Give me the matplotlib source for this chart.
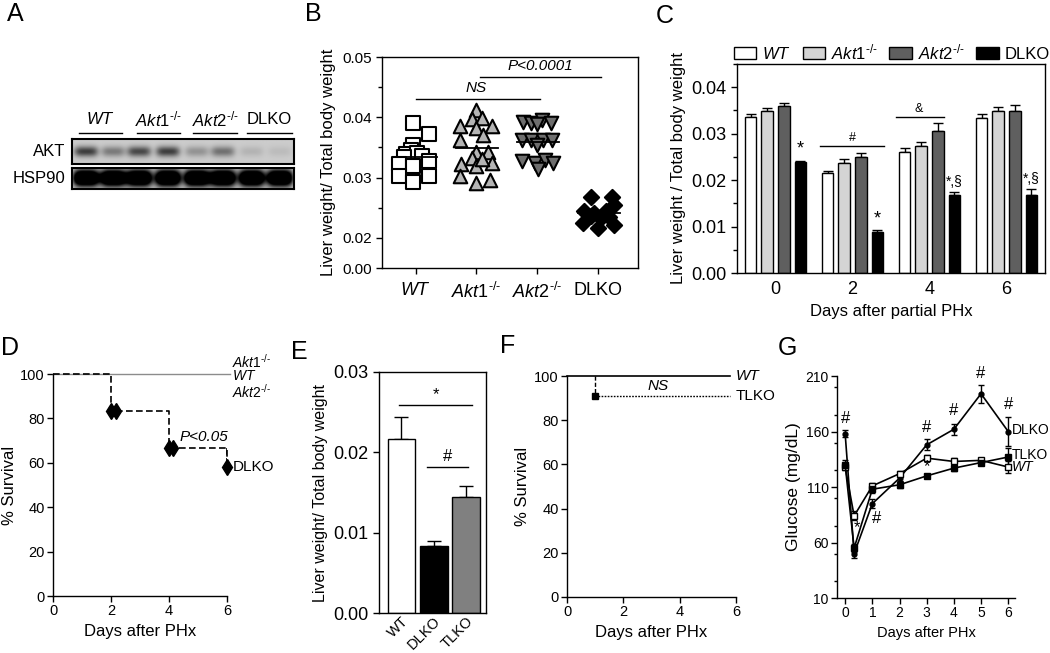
import numpy as np
import matplotlib
matplotlib.use("Agg")
import matplotlib.pyplot as plt
from matplotlib.patches import Patch
from matplotlib.ticker import MultipleLocator, FixedLocator

plt.rcParams['font.family'] = ['Liberation Sans', 'DejaVu Sans']
plt.rcParams['mathtext.fontset'] = 'custom'
plt.rcParams['mathtext.rm'] = 'Liberation Sans'
plt.rcParams['mathtext.it'] = 'Liberation Sans:italic'
plt.rcParams['axes.linewidth'] = 1.0
plt.rcParams['xtick.major.width'] = 1.0
plt.rcParams['ytick.major.width'] = 1.0
plt.rcParams['ytick.minor.width'] = 1.0

AKT1 = r'$\mathit{Akt1}^{\text{-/-}}$'
AKT2 = r'$\mathit{Akt2}^{\text{-/-}}$'
WT = r'$\mathit{WT}$'

# ---- A: western blot (band intensity per lane)
lane_pos = [0.063, 0.185, 0.302, 0.432, 0.563, 0.68, 0.81, 0.937]
akt_int = [0.7, 0.4, 0.65, 0.7, 0.28, 0.45, 0.12, 0.08]
hsp_int = [1.0, 1.0, 1.0, 1.0, 1.0, 1.0, 1.0, 1.0]
blot_groups = [WT, AKT1, AKT2, 'DLKO']

# ---- B: liver/body weight scatter
b_groups = [WT, AKT1, AKT2, 'DLKO']
b_wt_dx = [-0.04, 0.22, -0.04, -0.08, -0.16, 0.03, 0.11, -0.19, 0.22, -0.27, -0.04, 0.22, -0.27, -0.04]
b_wt_y = [0.0391, 0.0373, 0.0354, 0.0346, 0.0339, 0.0341, 0.0335, 0.0334, 0.0328, 0.0323, 0.0320, 0.0302, 0.0302, 0.0293]
b_akt1_dx = [0, -0.08, 0.09, -0.27, 0.25, 0, 0.11, -0.27, 0, 0.19, -0.08, -0.25, 0.25, 0, 0.09, -0.27, 0.22, 0]
b_akt1_y = [0.0412, 0.0397, 0.0398, 0.0385, 0.0386, 0.0382, 0.0371, 0.0362, 0.0343, 0.0343, 0.0332, 0.0323,
            0.0324, 0.0320, 0.0330, 0.0302, 0.0296, 0.0291]
b_akt2_dx = [-0.23, -0.10, 0.07, 0.23, 0, -0.26, -0.10, 0.09, 0.24, 0, -0.26, -0.04, 0.12, 0.26, 0.01]
b_akt2_y = [0.0393, 0.0391, 0.0396, 0.0391, 0.0389, 0.0362, 0.0362, 0.0362, 0.0362, 0.0354, 0.0327, 0.0324,
            0.0329, 0.0324, 0.0315]
b_dlko_dx = [-0.12, 0.23, 0.26, -0.24, -0.07, 0.13, -0.12, 0.04, 0.18, -0.26, 0.26, 0]
b_dlko_y = [0.0268, 0.0268, 0.0255, 0.0244, 0.0241, 0.0244, 0.0236, 0.0233, 0.0235, 0.0224, 0.0221, 0.0217]

# ---- C: liver/body weight after PHx
c_days = [0, 2, 4, 6]
c_wt = [0.0335, 0.0215, 0.0261, 0.0334]
c_wt_err = [0.0007, 0.0005, 0.0008, 0.0009]
c_akt1 = [0.0349, 0.0236, 0.0274, 0.0349]
c_akt1_err = [0.0006, 0.0009, 0.0007, 0.0009]
c_akt2 = [0.0360, 0.0249, 0.0305, 0.0348]
c_akt2_err = [0.0007, 0.0010, 0.0017, 0.0014]
c_dlko = [0.0238, 0.0088, 0.0169, 0.0169]
c_dlko_err = [0.0004, 0.0005, 0.0005, 0.0012]
c_dlko_marks = ['*', '*', '*,§', '*,§']

# ---- D: survival
d_days = [0, 2, 4, 6]
d_ctrl = [100, 100, 100, 100]
d_dlko = [100, 83.3, 66.7, 58.3]
d_evt_days = [2.0, 2.17, 4.0, 4.15, 6.0]
d_evt_surv = [83.3, 83.3, 66.7, 66.7, 58.3]

# ---- E: liver/body weight
e_groups = ['WT', 'DLKO', 'TLKO']
e_vals = [0.0216, 0.0084, 0.0145]
e_err = [0.0028, 0.0006, 0.0013]

# ---- F: survival
f_wt_days = [0, 5.77]
f_wt = [100, 100]
f_tlko_days = [1, 5.77]
f_tlko = [90.9, 90.9]

# ---- G: glucose
g_days = [0, 0.33, 1, 2, 3, 4, 5, 6]
g_dlko = [158, 50, 95, 118, 148, 162, 194, 160]
g_dlko_err = [3, 4, 4, 3, 5, 5, 8, 13]
g_wt = [128, 84, 111, 122, 136, 133, 134, 128]
g_wt_err = [3, 4, 3, 2, 3, 3, 2, 5]
g_tlko = [130, 55, 108, 112, 120, 127, 132, 137]
g_tlko_err = [4, 4, 3, 3, 2, 3, 2, 8]

fig = plt.figure(figsize=(10.5, 6.53), dpi=100)


def open_axes(ax, size=10):
    ax.spines['top'].set_visible(False)
    ax.spines['right'].set_visible(False)
    ax.tick_params(direction='out', length=4, labelsize=size, pad=2)


# ================= A =================
def blot(ax, intens, bg, sx, sy, gain):
    xx = np.linspace(0, 1, 400)
    yy = np.linspace(0, 1, 50)
    X, Y = np.meshgrid(xx, yy)
    img = np.full_like(X, bg)
    for xc, a in zip(lane_pos, intens):
        img += gain * a * np.exp(-0.5 * ((X - xc) / sx) ** 4 - 0.5 * ((Y - 0.5) / sy) ** 2)
    ax.imshow(np.clip(img, 0, 1), cmap='gray_r', vmin=0, vmax=1, aspect='auto', extent=[0, 1, 0, 1])
    ax.set_xticks([])
    ax.set_yticks([])
    for s in ax.spines.values():
        s.set_linewidth(1.5)

ax_akt = fig.add_axes([72 / 1050, 1 - 164 / 653, 222 / 1050, 25 / 653])
blot(ax_akt, akt_int, 0.2, 0.045, 0.15, 0.8)
ax_hsp = fig.add_axes([72 / 1050, 1 - 189 / 653, 222 / 1050, 21 / 653])
blot(ax_hsp, hsp_int, 0.12, 0.05, 0.28, 1.6)
ax_akt.text(-0.03, 0.5, 'AKT', transform=ax_akt.transAxes, ha='right', va='center', fontsize=12)
ax_hsp.text(-0.03, 0.5, 'HSP90', transform=ax_hsp.transAxes, ha='right', va='center', fontsize=12)
grp_x = [(0.032, 0.225), (0.293, 0.486), (0.545, 0.743), (0.788, 0.991)]
for (x0, x1), lab in zip(grp_x, blot_groups):
    ax_akt.plot([x0, x1], [1.24, 1.24], color='k', lw=1.0, transform=ax_akt.transAxes, clip_on=False)
    ax_akt.text((x0 + x1) / 2, 1.8, lab, transform=ax_akt.transAxes, ha='center', va='center', fontsize=12)

# ================= B =================
def fwd(y):
    y = np.asarray(y, dtype=float)
    return np.where(y >= 0.02, y, 0.02 - (0.02 - y) * 0.25)


def inv(y):
    y = np.asarray(y, dtype=float)
    return np.where(y >= 0.02, y, 0.02 - (0.02 - y) / 0.25)

axB = fig.add_axes([382 / 1050, 1 - 268 / 653, 256 / 1050, 211 / 653])
axB.set_yscale('function', functions=(fwd, inv))
b_sets = [(b_wt_dx, b_wt_y, 's', 'white'), (b_akt1_dx, b_akt1_y, '^', '#b4b4b4'),
          (b_akt2_dx, b_akt2_y, 'v', '#6e6e6e'), (b_dlko_dx, b_dlko_y, 'D', 'black')]
for i, (dx, yv, mk, fc) in enumerate(b_sets):
    axB.scatter(i + np.array(dx), yv, marker=mk, s=95 if mk != 'D' else 60, facecolor=fc,
                edgecolor='black', linewidth=1.5, zorder=3)
    m = np.mean(yv)
    axB.plot([i - 0.33, i + 0.36], [m, m], color='k', lw=1.3, zorder=4)
axB.set_xlim(-0.55, 3.65)
axB.set_ylim(0, 0.05)
axB.yaxis.set_major_locator(FixedLocator([0, 0.02, 0.03, 0.04, 0.05]))
axB.yaxis.set_minor_locator(FixedLocator([0.025, 0.035, 0.045]))
axB.set_yticklabels(['0.00', '0.02', '0.03', '0.04', '0.05'])
axB.set_xticks(range(4))
axB.set_xticklabels(b_groups, fontsize=13)
axB.tick_params(axis='y', direction='out', length=4, labelsize=11)
axB.tick_params(axis='y', which='minor', direction='out', length=3)
axB.tick_params(axis='x', direction='out', length=4, pad=6)
axB.set_ylabel('Liver weight/ Total body weight', fontsize=12)
axB.plot([0, 2.05], [0.0430, 0.0430], color='k', lw=1.0)
axB.text(1.0, 0.0437, 'NS', style='italic', ha='center', va='bottom', fontsize=11)
axB.plot([1.05, 3.05], [0.0467, 0.0467], color='k', lw=1.0)
axB.text(2.05, 0.0474, 'P<0.0001', style='italic', ha='center', va='bottom', fontsize=11)

# ================= C =================
axC = fig.add_axes([737 / 1050, 1 - 273 / 653, 308 / 1050, 209 / 653])
bw = 0.30
off = [-0.645, -0.215, 0.215, 0.645]
c_sets = [(c_wt, c_wt_err, 'white', WT), (c_akt1, c_akt1_err, '#d4d4d4', AKT1),
          (c_akt2, c_akt2_err, '#5f5f5f', AKT2), (c_dlko, c_dlko_err, 'black', 'DLKO')]
handles = []
for o, (v, e, fc, lab) in zip(off, c_sets):
    xs = np.array(c_days) + o
    axC.bar(xs, v, width=bw, color=fc, edgecolor='black', linewidth=1.0, zorder=2)
    axC.errorbar(xs, v, yerr=[np.zeros(4), e], fmt='none', ecolor='black', elinewidth=1.0,
                 capsize=3.5, capthick=1.0, zorder=1)
    handles.append(Patch(facecolor=fc, edgecolor='black', linewidth=1.0, label=lab))
for d, v, e, mk in zip(c_days, c_dlko, c_dlko_err, c_dlko_marks):
    axC.text(d + off[3], v + e + 0.0006, mk, ha='center', va='bottom',
             fontsize=13 if mk == '*' else 10)
axC.plot([1.16, 2.82], [0.0273, 0.0273], color='k', lw=1.0)
axC.text(2.0, 0.0278, '#', ha='center', va='bottom', fontsize=9)
axC.plot([3.13, 4.38], [0.0335, 0.0335], color='k', lw=1.0)
axC.text(3.73, 0.0340, '&', ha='center', va='bottom', fontsize=9)
axC.set_xlim(-1, 7)
axC.set_ylim(0, 0.045)
axC.set_xticks(c_days)
axC.yaxis.set_major_locator(FixedLocator([0, 0.01, 0.02, 0.03, 0.04]))
axC.yaxis.set_minor_locator(MultipleLocator(0.005))
axC.set_yticklabels(['0.00', '0.01', '0.02', '0.03', '0.04'])
axC.tick_params(direction='out', length=4, labelsize=13)
axC.tick_params(which='minor', direction='out', length=3)
axC.tick_params(axis='x', length=0, pad=6)
axC.set_xlabel('Days after partial PHx', fontsize=12)
axC.set_ylabel('Liver weight / Total body weight', fontsize=12)
axC.legend(handles=handles, loc='lower left', bbox_to_anchor=(-0.01, 1.01), ncol=4, frameon=False,
           fontsize=12, handlelength=1.35, handleheight=0.75, handletextpad=0.35, columnspacing=0.7,
           borderaxespad=0, borderpad=0)

# ================= D =================
axD = fig.add_axes([53 / 1050, 1 - 596 / 653, 174 / 1050, 222 / 653])
open_axes(axD, 10.5)
axD.plot([0, 6.1], [d_ctrl[0], d_ctrl[-1]], color='#8c8c8c', lw=1.0, clip_on=False)
axD.step(d_days, d_dlko, where='post', color='k', lw=1.2, ls=(0, (4, 2)), clip_on=False)
axD.plot([d_days[-1], d_days[-1]], [d_dlko[-2], d_dlko[-1]], color='k', lw=1.2, ls=(0, (4, 2)))
axD.plot(d_evt_days, d_evt_surv, ls='none', marker='d', ms=8, color='k', clip_on=False)
axD.set_xlim(0, 6)
axD.set_ylim(0, 100)
axD.set_xticks([0, 2, 4, 6])
axD.set_yticks([0, 20, 40, 60, 80, 100])
axD.set_xlabel('Days after PHx', fontsize=12)
axD.set_ylabel('% Survival', fontsize=12, labelpad=2)
axD.text(6.17, 105.7, AKT1, fontsize=10, va='center', ha='left', clip_on=False)
axD.text(6.17, 98.9, WT, fontsize=10, va='center', ha='left', clip_on=False)
axD.text(6.17, 92.2, AKT2, fontsize=10, va='center', ha='left', clip_on=False)
axD.text(4.37, 71.5, 'P<0.05', style='italic', fontsize=11, va='center', ha='left')
axD.text(6.2, 58.3, 'DLKO', fontsize=11, va='center', ha='left', clip_on=False)

# ================= E =================
axE = fig.add_axes([379 / 1050, 1 - 613 / 653, 107 / 1050, 241 / 653])
e_x = np.arange(len(e_groups))
axE.bar(e_x, e_vals, width=0.87, color=['white', 'black', '#808080'], edgecolor='black', linewidth=1.0,
        zorder=2)
axE.errorbar(e_x, e_vals, yerr=[np.zeros(3), e_err], fmt='none', ecolor='black', elinewidth=1.0,
             capsize=5, capthick=1.0, zorder=1)
axE.plot([-0.08, 2.2], [0.0259, 0.0259], color='k', lw=1.0)
axE.text(1.06, 0.0263, '*', ha='center', va='bottom', fontsize=12)
axE.plot([0.8, 2.08], [0.0182, 0.0182], color='k', lw=1.0)
axE.text(1.44, 0.0186, '#', ha='center', va='bottom', fontsize=12)
axE.set_xlim(-0.7, 2.63)
axE.set_ylim(0, 0.03)
axE.set_yticks([0, 0.01, 0.02, 0.03])
axE.set_yticklabels(['0.00', '0.01', '0.02', '0.03'])
axE.set_xticks(e_x)
axE.set_xticklabels(e_groups, rotation=45, ha='right', rotation_mode='anchor')
axE.tick_params(direction='out', length=4, labelsize=13)
axE.tick_params(axis='x', length=0, labelsize=10.5, pad=1)
axE.set_ylabel('Liver weight/ Total body weight', fontsize=11.5)

# ================= F =================
axF = fig.add_axes([567 / 1050, 1 - 597 / 653, 169 / 1050, 221 / 653])
open_axes(axF, 10.5)
axF.plot(f_wt_days, f_wt, color='k', lw=1.2, clip_on=False)
axF.plot([f_tlko_days[0], f_tlko_days[0]], [100, f_tlko[0]], color='k', lw=1.0, ls=(0, (3, 1.5)))
axF.plot(f_tlko_days, f_tlko, color='k', lw=1.0, ls=(0, (1.2, 1)))
axF.plot(f_tlko_days[:1], f_tlko[:1], ls='none', marker='s', ms=4, color='k')
axF.set_xlim(0, 6)
axF.set_ylim(0, 100)
axF.set_xticks([0, 2, 4, 6])
axF.set_yticks([0, 20, 40, 60, 80, 100])
axF.set_xlabel('Days after PHx', fontsize=12)
axF.set_ylabel('% Survival', fontsize=12, labelpad=3)
axF.text(3.25, 95.5, 'NS', style='italic', fontsize=11, ha='center', va='center')
axF.text(6.0, 100, 'WT', style='italic', fontsize=11, ha='left', va='center', clip_on=False)
axF.text(6.0, 90.9, 'TLKO', fontsize=11, ha='left', va='center', clip_on=False)

# ================= G =================
axG = fig.add_axes([837 / 1050, 1 - 598 / 653, 178 / 1050, 222 / 653])
open_axes(axG, 10)
axG.errorbar(g_days, g_dlko, yerr=g_dlko_err, color='k', lw=1.2, marker='o', ms=3.5, mfc='k',
             capsize=2.5, elinewidth=1.0, clip_on=False)
axG.errorbar(g_days, g_wt, yerr=g_wt_err, color='k', lw=1.2, marker='s', ms=4, mfc='white',
             capsize=2.5, elinewidth=1.0, clip_on=False)
axG.errorbar(g_days, g_tlko, yerr=g_tlko_err, color='k', lw=1.2, marker='s', ms=4, mfc='k',
             capsize=2.5, elinewidth=1.0, clip_on=False)
for x, y in [(0, 172), (1.15, 82), (3, 164), (4, 179), (5, 212), (6, 184)]:
    axG.text(x, y, '#', ha='center', va='center', fontsize=12, clip_on=False)
for x, y in [(0.45, 73), (3, 128)]:
    axG.text(x, y, '*', ha='center', va='center', fontsize=12)
axG.text(6.12, 161, 'DLKO', fontsize=10, ha='left', va='center', clip_on=False)
axG.text(6.12, 139, 'TLKO', fontsize=10, ha='left', va='center', clip_on=False)
axG.text(6.12, 128, 'WT', style='italic', fontsize=10, ha='left', va='center', clip_on=False)
axG.set_xlim(-0.3, 6.25)
axG.set_ylim(10, 210)
axG.set_xticks(range(7))
axG.set_yticks([10, 60, 110, 160, 210])
axG.yaxis.set_minor_locator(MultipleLocator(25))
axG.tick_params(which='minor', direction='out', length=2.5)
axG.set_xlabel('Days after PHx', fontsize=10.5)
axG.set_ylabel('Glucose (mg/dL)', fontsize=12.5, labelpad=3)

# panel letters
for lab, x, y in [('A', 15, 14), ('B', 313, 14), ('C', 665, 16), ('D', 10, 348),
                  ('E', 299, 352), ('F', 508, 346), ('G', 787, 348)]:
    fig.text(x / 1050, 1 - y / 653, lab, fontsize=18, ha='center', va='center')

fig.savefig('out.png', dpi=100)
